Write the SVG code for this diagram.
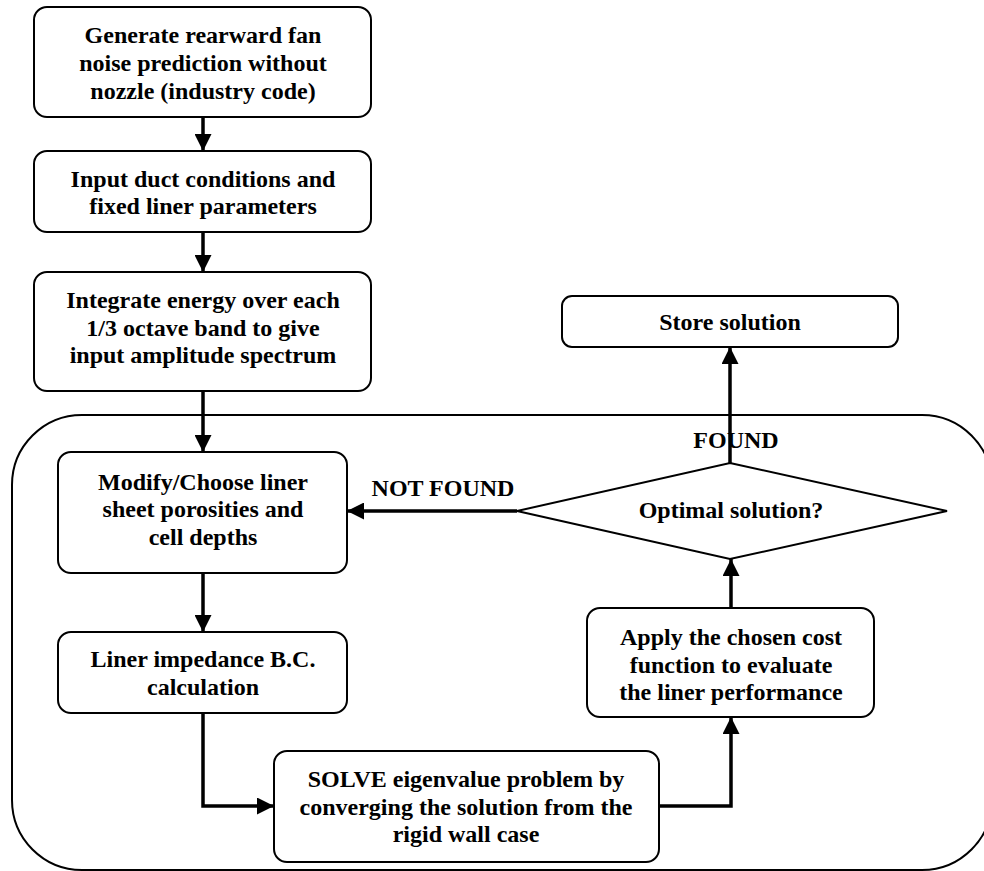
<svg xmlns="http://www.w3.org/2000/svg" width="984" height="871" viewBox="0 0 984 871">
<style>
.box{fill:#fff;stroke:#000;stroke-width:2}
.outer{fill:none;stroke:#000;stroke-width:2}
.con{fill:none;stroke:#000;stroke-width:3.5}
text{font-family:"Liberation Serif","Times New Roman",serif;font-weight:bold;font-size:24px;fill:#000;text-anchor:middle}
</style>
<defs>
<marker id="ah" markerUnits="userSpaceOnUse" markerWidth="17" markerHeight="17" viewBox="0 0 17 17" refX="17" refY="8.5" orient="auto">
<path d="M0,0 L17,8.5 L0,17 Z" fill="#000"/>
</marker>
</defs>
<rect class="outer" x="12" y="415" width="980" height="455" rx="70" ry="70"/>
<g id="n1"><rect class="box" x="34" y="7" width="337" height="110" rx="13"/>
<text x="203" y="43">Generate rearward fan</text><text x="203" y="71">noise prediction without</text><text x="203" y="99">nozzle (industry code)</text></g>
<g id="n2"><rect class="box" x="34" y="151" width="337" height="81" rx="13"/>
<text x="203" y="187">Input duct conditions and</text><text x="203" y="214">fixed liner parameters</text></g>
<g id="n3"><rect class="box" x="34" y="272" width="337" height="119" rx="13"/>
<text x="203" y="308">Integrate energy over each</text><text x="203" y="336">1/3 octave band to give</text><text x="203" y="363">input amplitude spectrum</text></g>
<g id="n4"><rect class="box" x="58" y="452" width="289" height="121" rx="13"/>
<text x="203" y="490">Modify/Choose liner</text><text x="203" y="517">sheet porosities and</text><text x="203" y="545">cell depths</text></g>
<g id="n5"><rect class="box" x="58" y="632" width="289" height="81" rx="13"/>
<text x="203" y="667">Liner impedance B.C.</text><text x="203" y="695">calculation</text></g>
<g id="n6"><rect class="box" x="274" y="751" width="385" height="111" rx="13"/>
<text x="466" y="787">SOLVE eigenvalue problem by</text><text x="466" y="815">converging the solution from the</text><text x="466" y="842">rigid wall case</text></g>
<g id="n7"><rect class="box" x="587" y="608" width="287" height="109" rx="13"/>
<text x="731" y="645">Apply the chosen cost</text><text x="731" y="673">function to evaluate</text><text x="731" y="700">the liner performance</text></g>
<g id="n8"><polygon class="box" points="730,463 947,511 730,559 517,511"/>
<text x="731" y="518">Optimal solution?</text></g>
<g id="n9"><rect class="box" x="562" y="296" width="336" height="51" rx="10"/>
<text x="730" y="330">Store solution</text></g>
<g id="connectors">
<line class="con" x1="203" y1="117" x2="203" y2="151" marker-end="url(#ah)"/>
<line class="con" x1="203" y1="232" x2="203" y2="272" marker-end="url(#ah)"/>
<line class="con" x1="203" y1="391" x2="203" y2="452" marker-end="url(#ah)"/>
<line class="con" x1="203" y1="573" x2="203" y2="632" marker-end="url(#ah)"/>
<polyline class="con" points="203,713 203,806 274,806" marker-end="url(#ah)"/>
<polyline class="con" points="659,806 731,806 731,717" marker-end="url(#ah)"/>
<line class="con" x1="731" y1="608" x2="731" y2="559" marker-end="url(#ah)"/>
<line class="con" x1="730" y1="463" x2="730" y2="347" marker-end="url(#ah)"/>
<line class="con" x1="517" y1="511" x2="347" y2="511" marker-end="url(#ah)"/>
<text x="443" y="496">NOT FOUND</text>
<text x="736" y="448">FOUND</text>
</g>
</svg>
